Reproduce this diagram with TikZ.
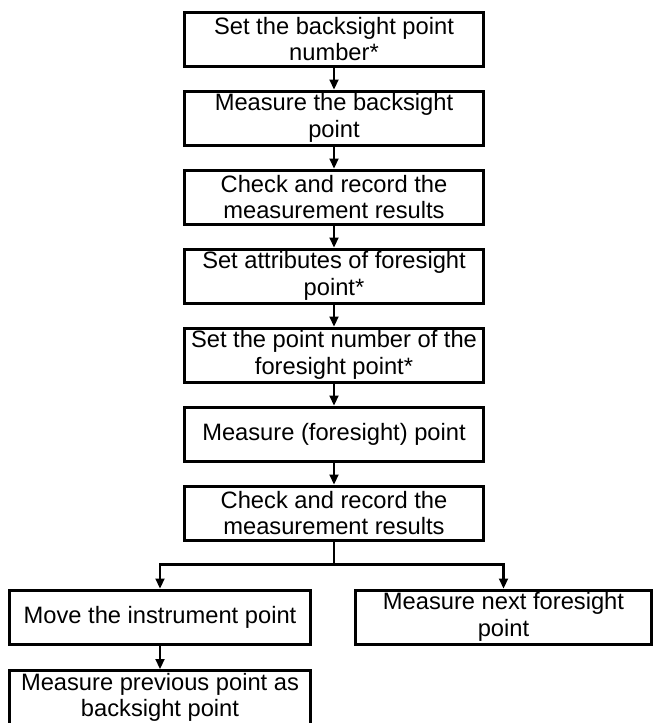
\documentclass[tikz,border=0pt]{standalone}
\usepackage{fontspec}
\setmainfont{Liberation Sans}
\usetikzlibrary{arrows.meta}
\tikzset{
  stepbox/.style={draw=black, line width=3pt, minimum width=299pt, minimum height=54pt,
    inner sep=0pt, align=center, font=\fontsize{23.7}{26.5}\selectfont},
  conn/.style={draw=black, line width=2.2pt},
  arr/.style={conn, -{Triangle[length=10pt,width=9pt]}}
}
\begin{document}
\begin{tikzpicture}[x=1pt,y=1pt]
\useasboundingbox (0,0) rectangle (654,-723);
\node[stepbox] (b1) at (334,-39)  {Set the backsight point\\number*};
\node[stepbox] (b2) at (334,-118) {Measure the backsight\\point};
\node[stepbox] (b3) at (334,-197) {Check and record the\\measurement results};
\node[stepbox] (b4) at (334,-276) {Set attributes of foresight\\point*};
\node[stepbox] (b5) at (334,-355) {Set the point number of the\\foresight point*};
\node[stepbox] (b6) at (334,-434) {Measure (foresight) point};
\node[stepbox] (b7) at (334,-513) {Check and record the\\measurement results};
\node[stepbox, minimum width=301pt] (bl) at (160,-617) {Move the instrument point};
\node[stepbox, minimum width=296pt] (br) at (503.5,-617) {Measure next foresight\\point};
\node[stepbox, minimum width=301pt] (bb) at (160,-697.5) {Measure previous point as\\backsight point};
\draw[arr] (b1.south) -- (b2.north);
\draw[arr] (b2.south) -- (b3.north);
\draw[arr] (b3.south) -- (b4.north);
\draw[arr] (b4.south) -- (b5.north);
\draw[arr] (b5.south) -- (b6.north);
\draw[arr] (b6.south) -- (b7.north);
\draw[conn] (b7.south) -- ++(0,-23) coordinate (j);
\draw[arr] (j) -| (bl.north);
\draw[arr] (j) -| (br.north);
\draw[arr] (bl.south) -- (bb.north);
\end{tikzpicture}
\end{document}
